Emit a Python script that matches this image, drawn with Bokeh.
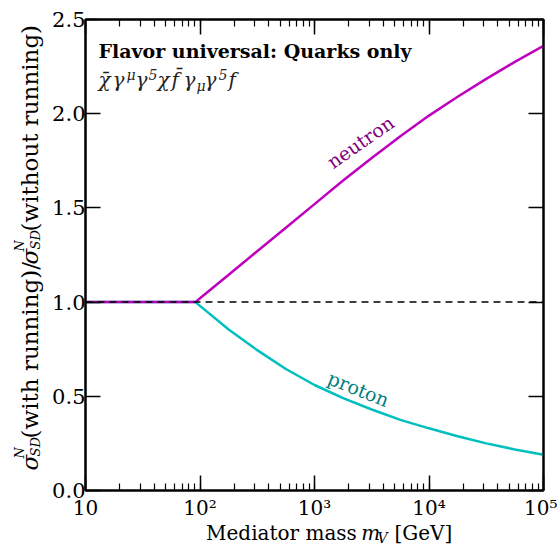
import math
from bokeh.plotting import figure
from bokeh.layouts import row, column
from bokeh.models import (Range1d, LogAxis, LinearAxis, LogTicker, FixedTicker,
                          CustomJSTickFormatter, PrintfTickFormatter, Label, Span)
from bokeh.embed import file_html
from bokeh.resources import INLINE

# ---- data ----
mass = [10, 91.19, 100, 178, 316, 562, 1000, 1778, 3162, 5623, 10000,
        17783, 31623, 56234, 100000]
neutron = [1.0, 1.0, 1.02, 1.145, 1.27, 1.395, 1.52, 1.645, 1.765, 1.88, 1.99,
           2.09, 2.185, 2.275, 2.36]
proton = [1.0, 1.0, 0.98, 0.855, 0.745, 0.645, 0.56, 0.49, 0.43, 0.375, 0.33,
          0.288, 0.25, 0.218, 0.19]
reference_level = 1.0
y_ticks = [0.0, 0.5, 1.0, 1.5, 2.0, 2.5]
x_range = (10, 1e5)
y_range = (0.0, 2.5)

SERIF = "DejaVu Serif"
W, H = 557, 545
YLAB_W = 44
MAIN_W = W - YLAB_W
MAIN_H = 522
UP = 0.32   # baseline -> anchor correction (fraction of font size)

# window pixel -> data helpers for annotations inside the frame
FL, FR, FT, FB = 85.0, 543.0, 19.0, 492.0
def xd(px):
    return 10 ** (1 + (px - FL) / ((FR - FL) / 4.0))
def yd(py):
    return (FB - py) / ((FB - FT) / 2.5)

p = figure(width=MAIN_W, height=MAIN_H, x_axis_type="log",
           x_range=Range1d(*x_range), y_range=Range1d(*y_range),
           output_backend="svg", toolbar_location=None,
           min_border_left=int(FL) - YLAB_W, min_border_right=W - int(FR),
           min_border_top=int(FT), min_border_bottom=MAIN_H - int(FB))
p.background_fill_color = "white"
p.border_fill_color = "white"
p.outline_line_color = "black"
p.outline_line_width = 2
p.xgrid.visible = False
p.ygrid.visible = False

xticker = LogTicker(num_minor_ticks=10)
yticker = FixedTicker(ticks=y_ticks)
xfmt = CustomJSTickFormatter(code="""
const sup = {2:"\u00b2", 3:"\u00b3", 4:"\u2074", 5:"\u2075"};
const e = Math.round(Math.log10(tick));
return e == 1 ? "10" : "10" + sup[e];
""")
empty_fmt = CustomJSTickFormatter(code="return '';")

def style(ax, labels=True, size="21px"):
    ax.axis_line_width = 2
    ax.major_tick_in = 15
    ax.major_tick_out = 0
    ax.minor_tick_in = 7
    ax.minor_tick_out = 0
    ax.major_tick_line_width = 1.5
    ax.minor_tick_line_width = 1.2
    ax.major_label_text_font = SERIF
    ax.major_label_text_font_size = size if labels else "0px"
    ax.major_label_text_color = "black"
    if not labels:
        ax.major_label_standoff = 0

xa = p.xaxis[0]
xa.ticker = xticker
xa.formatter = xfmt
style(xa, size="20px")
xa.major_label_standoff = 5

ya = p.yaxis[0]
ya.ticker = yticker
ya.formatter = PrintfTickFormatter(format="%.1f")
style(ya)
ya.major_label_standoff = 0

top = LogAxis(ticker=xticker, formatter=empty_fmt)
style(top, labels=False)
p.add_layout(top, "above")
right = LinearAxis(ticker=yticker, formatter=empty_fmt)
style(right, labels=False)
p.add_layout(right, "right")

# ---- curves ----
p.line(mass, proton, line_color="#00bfbf", line_width=2.5)
p.line(mass, neutron, line_color="#bf00bf", line_width=2.5)
p.add_layout(Span(location=reference_level, dimension="width",
                  line_color="black", line_width=1.5, line_dash="7 5"))

# ---- curve labels ----
p.add_layout(Label(x=xd(360), y=yd(142), text="neutron", angle=35,
                   angle_units="deg", text_align="center",
                   text_baseline="middle", text_font=SERIF,
                   text_font_size="19px", text_color="#800080"))
p.add_layout(Label(x=xd(358), y=yd(390), text="proton", angle=-22,
                   angle_units="deg", text_align="center",
                   text_baseline="middle", text_font=SERIF,
                   text_font_size="19px", text_color="#008080"))

# ---- title text ----
p.add_layout(Label(x=xd(98), y=yd(57 - UP * 19), text="Flavor universal: Quarks only",
                   text_align="left", text_baseline="alphabetic",
                   text_font=SERIF, text_font_size="19px",
                   text_font_style="bold", text_color="black"))

# math line: chi-bar gamma^mu gamma^5 chi f-bar gamma_mu gamma^5 f
math_pieces = [
    ("\u03c7\u0304", 98, 0), ("\u03b3", 112, 0), ("\u03bc", 126, 1),
    ("\u03b3", 135, 0), ("5", 148, 1), ("\u03c7", 157, 0),
    ("f\u0304", 171, 0), ("\u03b3", 183, 0), ("\u03bc", 196, -1),
    ("\u03b3", 204, 0), ("5", 218, 1), ("f", 228, 0),
]
for txt, px, lvl in math_pieces:
    fs = 20 if lvl == 0 else 14
    base = 86 - 7 * (lvl == 1) + 4 * (lvl == -1)
    p.add_layout(Label(x=xd(px), y=yd(base - UP * fs), text=txt, text_align="left",
                       text_baseline="alphabetic", text_font=SERIF,
                       text_font_size=f"{fs}px",
                       text_font_style="italic", text_color="#222222"))

# ---- helper figures for the axis titles (text drawn in pixel space) ----
def label_fig(w, h):
    f = figure(width=w, height=h, x_range=Range1d(0, w), y_range=Range1d(0, h),
               output_backend="svg", toolbar_location=None, min_border=0,
               x_axis_location=None, y_axis_location=None, title=None)
    f.outline_line_color = None
    f.xgrid.visible = False
    f.ygrid.visible = False
    f.background_fill_color = "white"
    f.border_fill_color = "white"
    return f

# x axis title
XLAB_H = H - MAIN_H
xf = label_fig(MAIN_W, XLAB_H)
xlab = [("Mediator mass", 179, 539, 20, "normal"),
        ("m", 353, 539, 20, "italic"),
        ("V", 371, 542, 14, "italic"),
        ("[GeV]", 390, 539, 20, "normal")]
for txt, px, py, fs, st in xlab:
    xf.add_layout(Label(x=px - YLAB_W, y=H - (py - UP * fs), text=txt,
                        text_align="left", text_baseline="alphabetic",
                        text_font=SERIF, text_font_size=f"{fs}px",
                        text_font_style=st, text_color="black"))

# y axis title (rotated pieces; text "up" points to -x)
yf = label_fig(YLAB_W, H)
ylab = [("\u03c3", 37, 470, 23, "italic"),
        ("N", 23, 458, 13, "italic"),
        ("SD", 39, 456, 13, "italic"),
        ("(with running)/", 37, 438, 23, "normal"),
        ("\u03c3", 37, 264, 23, "italic"),
        ("N", 23, 251, 13, "italic"),
        ("SD", 39, 249, 13, "italic"),
        ("(without running)", 37, 231, 23, "normal")]
for txt, px, py, fs, st in ylab:
    yf.add_layout(Label(x=px - UP * fs, y=H - py, text=txt, angle=math.pi / 2,
                        angle_units="rad", text_align="left",
                        text_baseline="alphabetic", text_font=SERIF,
                        text_font_size=f"{fs}px", text_font_style=st,
                        text_color="black"))

layout = row(yf, column(p, xf, spacing=0), spacing=0)
open("out.html", "w").write(file_html(layout, INLINE))
